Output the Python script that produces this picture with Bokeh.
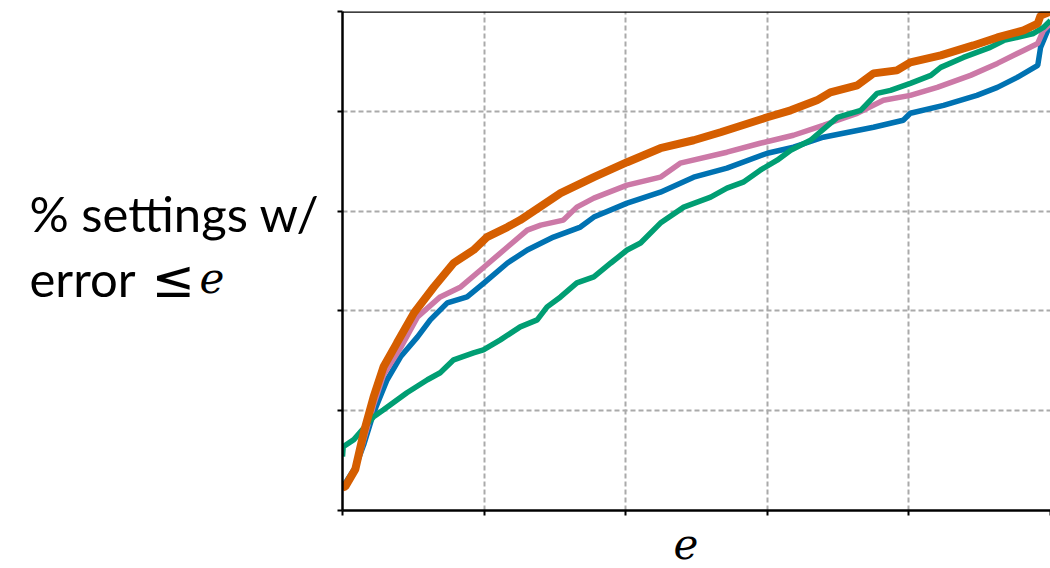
from bokeh.plotting import figure
from bokeh.models import FixedTicker, Span, Title
from bokeh.layouts import row
from bokeh.core.properties import value
from bokeh.embed import file_html
from bokeh.resources import INLINE

# ---- data (x = error e, y = fraction of settings with error <= e) ----
orange_x = [0, 0.004, 0.018, 0.030, 0.044, 0.058, 0.077, 0.101, 0.129, 0.157, 0.185, 0.204, 0.233, 0.251,
            0.308, 0.355, 0.402, 0.449, 0.496, 0.534, 0.600, 0.633, 0.670, 0.689, 0.727, 0.750, 0.783,
            0.802, 0.845, 0.891, 0.925, 0.962, 0.982, 0.986, 1.0]
orange_y = [0.046, 0.048, 0.082, 0.156, 0.228, 0.288, 0.336, 0.396, 0.448, 0.496, 0.522, 0.548, 0.568, 0.582,
            0.636, 0.668, 0.698, 0.726, 0.742, 0.758, 0.788, 0.802, 0.822, 0.838, 0.852, 0.876, 0.882,
            0.898, 0.912, 0.932, 0.948, 0.962, 0.976, 0.992, 1.0]

pink_x = [0, 0.018, 0.030, 0.044, 0.058, 0.082, 0.106, 0.138, 0.167, 0.200, 0.233, 0.261, 0.280, 0.312,
          0.331, 0.355, 0.402, 0.449, 0.477, 0.543, 0.590, 0.637, 0.679, 0.727, 0.764, 0.802, 0.840,
          0.887, 0.925, 0.962, 0.982, 0.990, 1.0]
pink_y = [0.042, 0.080, 0.142, 0.212, 0.272, 0.326, 0.388, 0.428, 0.448, 0.488, 0.528, 0.562, 0.572, 0.582,
          0.608, 0.626, 0.652, 0.668, 0.696, 0.718, 0.736, 0.752, 0.772, 0.796, 0.822, 0.832, 0.848,
          0.872, 0.896, 0.922, 0.936, 0.962, 0.976]

blue_x = [0, 0.018, 0.030, 0.044, 0.063, 0.082, 0.106, 0.124, 0.148, 0.176, 0.200, 0.233, 0.261, 0.298,
          0.336, 0.355, 0.402, 0.449, 0.496, 0.543, 0.600, 0.637, 0.679, 0.750, 0.792, 0.802, 0.849,
          0.896, 0.925, 0.953, 0.982, 0.986, 0.996, 1.0]
blue_y = [0.046, 0.086, 0.132, 0.196, 0.262, 0.308, 0.348, 0.382, 0.416, 0.428, 0.456, 0.496, 0.522, 0.548,
          0.568, 0.588, 0.616, 0.638, 0.668, 0.686, 0.716, 0.728, 0.748, 0.768, 0.782, 0.796, 0.812,
          0.832, 0.848, 0.868, 0.892, 0.928, 0.962, 0.976]

green_x = [0, 0.001, 0.016, 0.044, 0.058, 0.091, 0.120, 0.138, 0.157, 0.185, 0.199, 0.223, 0.251, 0.275,
           0.289, 0.308, 0.331, 0.355, 0.379, 0.402, 0.421, 0.449, 0.482, 0.520, 0.543, 0.566, 0.590,
           0.614, 0.633, 0.661, 0.699, 0.732, 0.755, 0.774, 0.802, 0.831, 0.845, 0.877, 0.915, 0.934,
           0.976, 0.990, 1.0]
green_y = [0.108, 0.128, 0.142, 0.188, 0.202, 0.236, 0.262, 0.276, 0.302, 0.316, 0.322, 0.342, 0.368, 0.382,
           0.408, 0.428, 0.456, 0.468, 0.496, 0.522, 0.536, 0.576, 0.608, 0.628, 0.646, 0.658, 0.682,
           0.702, 0.722, 0.742, 0.788, 0.802, 0.836, 0.842, 0.856, 0.872, 0.888, 0.908, 0.928, 0.942,
           0.956, 0.968, 0.982]

ticks = [0, 0.2, 0.4, 0.6, 0.8, 1.0]
ylabel_line1 = "% settings w/"
ylabel_line2 = "error"
ylabel_rel = "\u2264"
ylabel_var = "e"
xlabel = "e"

# ---- left panel holding the y-axis caption ----
lab = figure(width=332, height=568, output_backend="svg", toolbar_location=None,
             x_range=(0, 332), y_range=(0, 568), x_axis_type=None, y_axis_type=None,
             min_border=0)
lab.outline_line_color = None
lab.xgrid.visible = False
lab.ygrid.visible = False
lab.text(x=[29], y=[339], text=[ylabel_line1], text_font=value("Lato"),
         text_font_size="49px", text_color="black", text_baseline="alphabetic")
lab.text(x=[29], y=[265], text=[ylabel_line2], text_font=value("Lato"),
         text_font_size="49px", text_color="black", text_baseline="alphabetic")
lab.text(x=[151], y=[263], text=[ylabel_rel], text_font=value("DejaVu Sans"),
         text_font_size="52px", text_color="black", text_baseline="alphabetic")
lab.text(x=[199], y=[265], text=[ylabel_var], text_font=value("DejaVu Serif"),
         text_font_style="italic", text_font_size="42px", text_color="black",
         text_baseline="alphabetic")

# ---- main plot ----
p = figure(width=718, height=568, output_backend="svg", toolbar_location=None,
           x_range=(0, 1), y_range=(0, 1),
           min_border_left=10, min_border_right=0, min_border_top=11, min_border_bottom=57)
p.outline_line_color = None
p.background_fill_color = "white"

for ax in (p.xaxis[0], p.yaxis[0]):
    ax.ticker = FixedTicker(ticks=ticks)
    ax.major_label_text_font_size = "0px"
    ax.major_label_standoff = 0
    ax.major_tick_in = 0
    ax.major_tick_out = 5
    ax.major_tick_line_width = 2
    ax.major_tick_line_color = "black"
    ax.minor_tick_line_color = None
    ax.axis_line_width = 2.5
    ax.axis_line_color = "black"

for g in (p.xgrid[0], p.ygrid[0]):
    g.ticker = FixedTicker(ticks=[0.2, 0.4, 0.6, 0.8])
    g.grid_line_color = "#aaaaaa"
    g.grid_line_width = 2
    g.grid_line_dash = "5 3"

p.add_layout(Span(location=1.0, dimension="width", line_color="black", line_width=2.5))

p.add_layout(Title(text=xlabel, align="left", offset=331, text_font="DejaVu Serif",
                   text_font_style="italic", text_font_size="42px", text_color="black",
                   text_line_height=0.7, standoff=20), "below")

p.line(blue_x, blue_y, line_color="#0072B2", line_width=5.5)
p.line(pink_x, pink_y, line_color="#CC79A7", line_width=5.5)
p.line(green_x, green_y, line_color="#009E73", line_width=5.5)
p.line(orange_x, orange_y, line_color="#D55E00", line_width=8)

layout = row(lab, p)
open("out.html", "w").write(file_html(layout, INLINE))
